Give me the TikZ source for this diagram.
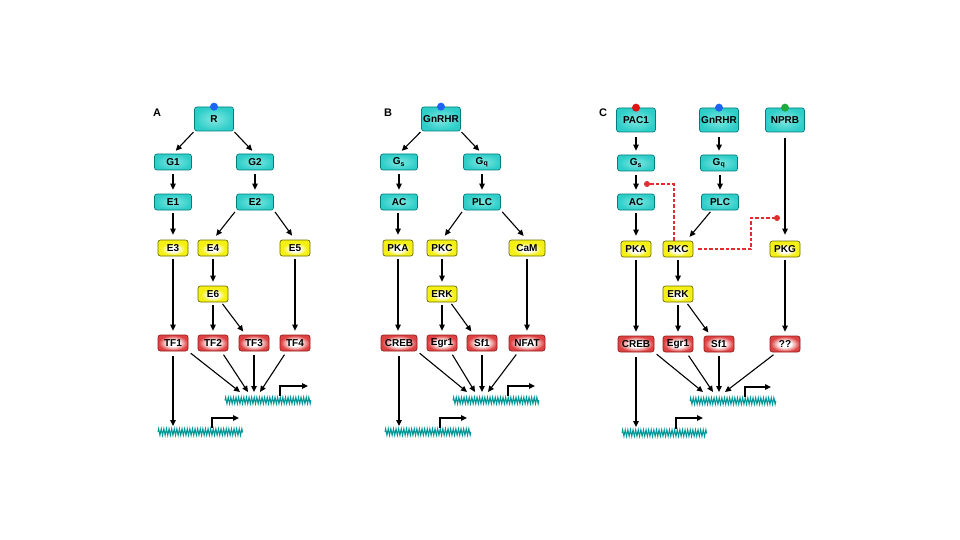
\documentclass[tikz,border=0pt]{standalone}
\usepackage{fontspec}
\setmainfont{Liberation Sans}
\usetikzlibrary{arrows.meta,decorations.pathmorphing,calc}
\definecolor{cyF}{RGB}{45,205,200}
\definecolor{cyL}{RGB}{130,232,226}
\definecolor{cyB}{RGB}{0,125,125}
\definecolor{yeF}{RGB}{245,240,20}
\definecolor{yeB}{RGB}{110,110,0}
\definecolor{rdF}{RGB}{222,65,65}
\definecolor{rdB}{RGB}{150,30,30}
\definecolor{dnaC}{RGB}{0,150,150}
\definecolor{inhC}{RGB}{225,45,45}
\definecolor{dotB}{RGB}{30,100,240}
\definecolor{dotR}{RGB}{225,20,20}
\definecolor{dotG}{RGB}{30,170,60}
\pgfdeclareradialshading{yeS}{\pgfpoint{0bp}{-4bp}}{color(0bp)=(white); color(8bp)=(white); color(20bp)=(yeF); color(50bp)=(yeF)}
\pgfdeclareradialshading{rdS}{\pgfpoint{0bp}{0bp}}{color(0bp)=(white); color(10bp)=(white); color(24bp)=(rdF); color(50bp)=(rdF)}
\newcommand\lab{\fontsize{10}{11}\selectfont\bfseries}
\tikzset{
  box/.style={rectangle, rounded corners=2.5pt, line width=0.7pt, inner sep=0pt, minimum height=16pt, font=\lab},
  cy/.style={box, draw=cyB, inner color=cyL, outer color=cyF, minimum width=37pt},
  rec/.style={cy, minimum width=39pt, minimum height=24pt},
  ye/.style={box, draw=yeB, shading=yeS, minimum width=30pt},
  rd/.style={box, draw=rdB, shading=rdS, minimum width=30pt},
  wide/.style={minimum width=36pt},
  arr/.style={-{Triangle[length=6pt,width=5.5pt]}, line width=1.1pt},
  dna/.style={dnaC, line width=1pt, decorate, decoration={zigzag, segment length=2.6pt, amplitude=3.3pt}},
  prom/.style={-{Triangle[length=6pt,width=5.5pt]}, line width=1.1pt},
  inh/.style={inhC, line width=1.2pt, dash pattern=on 3.5pt off 2pt},
  dot/.style={circle, inner sep=0pt, minimum size=8pt},
  plabel/.style={font=\fontsize{11}{12}\selectfont\bfseries}
}
\newcommand\sub[1]{\textsubscript{\fontsize{7}{7}\selectfont #1}}
\begin{document}
\begin{tikzpicture}[x=1pt,y=-1pt]
\useasboundingbox (0,0) rectangle (960,540);
% ---------------- Panel A ----------------
\node[plabel] (lA) at (157,113) {A};
\node[rec] (R) at (214,119) {R};
\node[dot, fill=dotB] (Rd) at (R.north) {};
\node[cy] (G1) at (173,162) {G1};
\node[cy] (G2) at (255,162) {G2};
\node[cy] (E1) at (173,202) {E1};
\node[cy] (E2) at (255,202) {E2};
\node[ye] (E3) at (173,248) {E3};
\node[ye] (E4) at (213,248) {E4};
\node[ye] (E5) at (295,248) {E5};
\node[ye] (E6) at (213,294) {E6};
\node[rd] (TF1) at (173,343) {TF1};
\node[rd] (TF2) at (213,343) {TF2};
\node[rd] (TF3) at (254,343) {TF3};
\node[rd] (TF4) at (295,343) {TF4};
\draw[arr, shorten <=1pt, shorten >=4pt] (R.south west) -- (G1.north);
\draw[arr, shorten <=1pt, shorten >=4pt] (R.south east) -- (G2.north);
\draw[arr, shorten <=4pt, shorten >=4pt] (G1) -- (E1);
\draw[arr, shorten <=4pt, shorten >=4pt] (G2) -- (E2);
\draw[arr, shorten <=3pt, shorten >=5pt] (E1) -- (E3);
\draw[arr, shorten <=2pt, shorten >=5pt] (E2.south west) -- (E4.north);
\draw[arr, shorten <=2pt, shorten >=5pt] (E2.south east) -- (E5.north);
\draw[arr, shorten <=3pt, shorten >=4pt] (E3) -- (TF1);
\draw[arr, shorten <=3pt, shorten >=4pt] (E4) -- (E6);
\draw[arr, shorten <=3pt, shorten >=4pt] (E5) -- (TF4);
\draw[arr, shorten <=3pt, shorten >=4pt] (E6) -- (TF2);
\draw[arr, shorten <=2pt, shorten >=4pt] (E6.-45) -- (TF3.135);
\coordinate (dA1) at (225,400.5); \coordinate (dA2) at (311,400.5);
\coordinate (dA3) at (158,432); \coordinate (dA4) at (243,432);
\draw[dna] (dA1) -- (dA2);
\draw[dna] (dA3) -- (dA4);
\coordinate (pA1) at (280,396); \coordinate (pA1e) at (308,386);
\coordinate (pA2) at (212,428); \coordinate (pA2e) at (239,418);
\draw[prom] (pA1) |- (pA1e);
\draw[prom] (pA2) |- (pA2e);
\coordinate (tA1) at (240,392); \coordinate (tA2) at (248,392);
\coordinate (tA3) at (254,392); \coordinate (tA4) at (260,392);
\coordinate (tA5) at (173,426);
\draw[arr, shorten <=3pt] (TF1.south east) -- (tA1);
\draw[arr, shorten <=4pt] (TF2.-45) -- (tA2);
\draw[arr, shorten <=4pt] (TF3.south) -- (tA3);
\draw[arr, shorten <=4pt] (TF4.-135) -- (tA4);
\draw[arr, shorten <=5pt] (TF1.south) -- (tA5);
% ---------------- Panel B ----------------
\node[plabel] (lB) at (388,113) {B};
\node[rec] (GnB) at (441,119) {GnRHR};
\node[dot, fill=dotB] (GnBd) at (GnB.north) {};
\node[cy] (GsB) at (399,162) {G\sub{s}};
\node[cy] (GqB) at (482,162) {G\sub{q}};
\node[cy] (ACB) at (399,202) {AC};
\node[cy] (PLCB) at (482,202) {PLC};
\node[ye] (PKAB) at (398,248) {PKA};
\node[ye] (PKCB) at (442,248) {PKC};
\node[ye, wide] (CaMB) at (527,248) {CaM};
\node[ye] (ERKB) at (442,294) {ERK};
\node[rd, wide] (CREBB) at (399,343) {CREB};
\node[rd] (EgrB) at (442,343) {Egr1};
\node[rd] (SfB) at (482,343) {Sf1};
\node[rd, wide] (NFATB) at (527,343) {NFAT};
\draw[arr, shorten <=1pt, shorten >=4pt] (GnB.south west) -- (GsB.north);
\draw[arr, shorten <=1pt, shorten >=4pt] (GnB.south east) -- (GqB.north);
\draw[arr, shorten <=4pt, shorten >=4pt] (GsB) -- (ACB);
\draw[arr, shorten <=4pt, shorten >=4pt] (GqB) -- (PLCB);
\draw[arr, shorten <=3pt, shorten >=5pt] (ACB.south -| PKAB.south) -- (PKAB.north);
\draw[arr, shorten <=2pt, shorten >=5pt] (PLCB.south west) -- (PKCB.north);
\draw[arr, shorten <=2pt, shorten >=5pt] (PLCB.south east) -- (CaMB.north);
\draw[arr, shorten <=3pt, shorten >=4pt] (PKCB) -- (ERKB);
\draw[arr, shorten <=3pt, shorten >=4pt] (PKAB.south) -- (CREBB.north -| PKAB.south);
\draw[arr, shorten <=3pt, shorten >=4pt] (CaMB) -- (NFATB);
\draw[arr, shorten <=3pt, shorten >=4pt] (ERKB) -- (EgrB);
\draw[arr, shorten <=2pt, shorten >=4pt] (ERKB.-45) -- (SfB.135);
\coordinate (dB1) at (453,400.5); \coordinate (dB2) at (539,400.5);
\coordinate (dB3) at (385,432); \coordinate (dB4) at (471,432);
\draw[dna] (dB1) -- (dB2);
\draw[dna] (dB3) -- (dB4);
\coordinate (pB1) at (508,396); \coordinate (pB1e) at (535,386);
\coordinate (pB2) at (440,428); \coordinate (pB2e) at (467,418);
\draw[prom] (pB1) |- (pB1e);
\draw[prom] (pB2) |- (pB2e);
\coordinate (tB1) at (467,392); \coordinate (tB2) at (475,392);
\coordinate (tB3) at (482,392); \coordinate (tB4) at (488,392);
\coordinate (tB5) at (399,426);
\draw[arr, shorten <=3pt] (CREBB.south east) -- (tB1);
\draw[arr, shorten <=4pt] (EgrB.-45) -- (tB2);
\draw[arr, shorten <=4pt] (SfB.south) -- (tB3);
\draw[arr, shorten <=4pt] (NFATB.-135) -- (tB4);
\draw[arr, shorten <=5pt] (CREBB.south) -- (tB5);
% ---------------- Panel C ----------------
\node[plabel] (lC) at (603,113) {C};
\node[rec] (PAC) at (636,120) {PAC1};
\node[dot, fill=dotR] (PACd) at (PAC.north) {};
\node[rec] (GnC) at (719,120) {GnRHR};
\node[dot, fill=dotB] (GnCd) at (GnC.north) {};
\node[rec] (NPRB) at (785,120) {NPRB};
\node[dot, fill=dotG] (NPRBd) at (NPRB.north) {};
\node[cy] (GsC) at (636,163) {G\sub{s}};
\node[cy] (GqC) at (719,163) {G\sub{q}};
\node[cy] (ACC) at (636,202) {AC};
\node[cy] (PLCC) at (720,202) {PLC};
\node[ye] (PKAC) at (636,249) {PKA};
\node[ye] (PKCC) at (678,249) {PKC};
\node[ye] (PKGC) at (785,249) {PKG};
\node[ye] (ERKC) at (678,294) {ERK};
\node[rd, wide] (CREBC) at (636,344) {CREB};
\node[rd] (EgrC) at (678,344) {Egr1};
\node[rd] (SfC) at (719,344) {Sf1};
\node[rd] (QQC) at (785,344) {??};
\draw[arr, shorten <=5pt, shorten >=4pt] (PAC) -- (GsC);
\draw[arr, shorten <=5pt, shorten >=4pt] (GnC) -- (GqC);
\draw[arr, shorten <=4pt, shorten >=4pt] (GsC) -- (ACC);
\draw[arr, shorten <=4pt, shorten >=4pt] (GqC.south -| PLCC.north) -- (PLCC.north);
\draw[arr, shorten <=6pt, shorten >=6pt] (NPRB) -- (PKGC);
\draw[arr, shorten <=3pt, shorten >=5pt] (ACC) -- (PKAC);
\draw[arr, shorten <=2pt, shorten >=5pt] (PLCC.-135) -- (PKCC.45);
\draw[arr, shorten <=3pt, shorten >=4pt] (PKCC) -- (ERKC);
\draw[arr, shorten <=3pt, shorten >=4pt] (PKAC) -- (CREBC);
\draw[arr, shorten <=3pt, shorten >=4pt] (PKGC) -- (QQC);
\draw[arr, shorten <=3pt, shorten >=4pt] (ERKC) -- (EgrC);
\draw[arr, shorten <=2pt, shorten >=4pt] (ERKC.-45) -- (SfC.135);
% inhibitory dashed links
\coordinate (iC1) at (647,184);
\coordinate (kC) at (751,218);
\coordinate (iC2) at (777,218);
\draw[inh] ([xshift=-4pt]PKCC.north) |- (iC1);
\draw[inh] ([xshift=5pt]PKCC.east) -| (kC) -- (iC2);
\fill[inhC] (iC1) circle (3pt);
\fill[inhC] (iC2) circle (3pt);
\coordinate (dC1) at (690,401); \coordinate (dC2) at (776,401);
\coordinate (dC3) at (622,433); \coordinate (dC4) at (707,433);
\draw[dna] (dC1) -- (dC2);
\draw[dna] (dC3) -- (dC4);
\coordinate (pC1) at (745,397); \coordinate (pC1e) at (771,387);
\coordinate (pC2) at (676,429); \coordinate (pC2e) at (703,418);
\draw[prom] (pC1) |- (pC1e);
\draw[prom] (pC2) |- (pC2e);
\coordinate (tC1) at (703,392); \coordinate (tC2) at (713,392);
\coordinate (tC3) at (719,392); \coordinate (tC4) at (725,392);
\coordinate (tC5) at (636,427);
\draw[arr, shorten <=3pt] (CREBC.south east) -- (tC1);
\draw[arr, shorten <=4pt] (EgrC.-45) -- (tC2);
\draw[arr, shorten <=4pt] (SfC.south) -- (tC3);
\draw[arr, shorten <=4pt] (QQC.-135) -- (tC4);
\draw[arr, shorten <=5pt] (CREBC.south) -- (tC5);
\end{tikzpicture}
\end{document}
